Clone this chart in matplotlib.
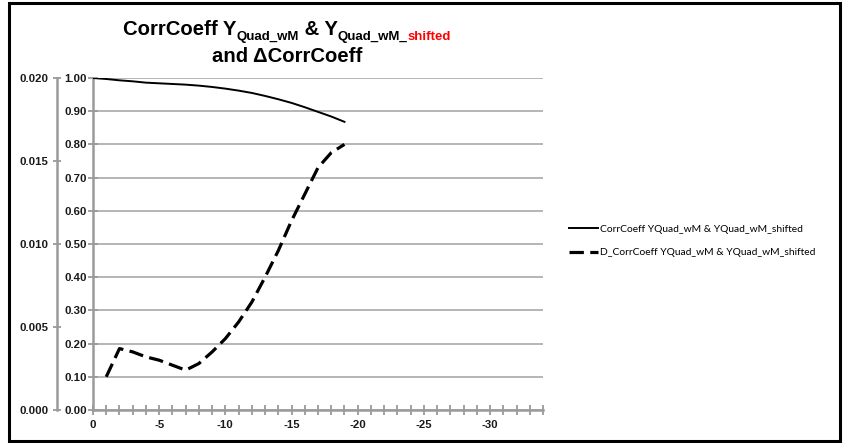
import numpy as np
import matplotlib
matplotlib.use("Agg")
import matplotlib.pyplot as plt
from matplotlib.transforms import IdentityTransform
from matplotlib.patches import Rectangle

# shift steps (x) and correlation values
shift = [0, -1, -2, -3, -4, -5, -6, -7, -8, -9, -10,
         -11, -12, -13, -14, -15, -16, -17, -18, -19]
corr = [1.000, 0.997, 0.993, 0.990, 0.986, 0.984, 0.982, 0.980, 0.977, 0.973,
        0.968, 0.962, 0.955, 0.946, 0.936, 0.925, 0.912, 0.898, 0.884, 0.868]

d_shift = [-1, -2, -3, -4, -5, -6, -7, -8, -9, -10,
           -11, -12, -13, -14, -15, -16, -17, -18, -19]
d_corr = [0.0020, 0.0037, 0.0035, 0.0032, 0.0030, 0.0027, 0.0024, 0.0028, 0.0035,
          0.0043, 0.0053, 0.0065, 0.0080, 0.0096, 0.0114, 0.0130, 0.0146, 0.0155, 0.0160]

inner_ticks = [0.0, 0.1, 0.2, 0.3, 0.4, 0.5, 0.6, 0.7, 0.8, 0.9, 1.0]
outer_ticks = [0.000, 0.005, 0.010, 0.015, 0.020]
x_major = [0, -5, -10, -15, -20, -25, -30]

lab_solid = "CorrCoeff YQuad_wM & YQuad_wM_shifted"
lab_dash = "D_CorrCoeff YQuad_wM & YQuad_wM_shifted"

W, H = 843, 443
fig = plt.figure(figsize=(W / 100, H / 100), dpi=100)
ax = fig.add_axes([93 / W, 1 - 410 / H, (543 - 93) / W, (410 - 78) / H])

axcol = "#9a9a9a"
tickfont = dict(family="Liberation Sans", weight="bold", size=8.2)

ax.plot(shift, corr, color="black", lw=1.4, label=lab_solid, zorder=3)
ax.set_xlim(0, -34)
ax.set_ylim(0, 1.0)
ax.set_yticks(inner_ticks)
ax.set_yticklabels(["%.2f" % v for v in inner_ticks], **tickfont)
ax.set_xticks(x_major)
ax.set_xticklabels([str(v) for v in x_major], **tickfont)
ax.set_xticks(np.arange(0, -35, -1), minor=True)
ax.grid(axis="y", color="#b0b0b0", lw=1.3)
ax.set_axisbelow(True)
for s in ["top", "right"]:
    ax.spines[s].set_visible(False)
for s in ["left", "bottom"]:
    ax.spines[s].set_color(axcol)
    ax.spines[s].set_linewidth(1.8)
ax.tick_params(axis="both", which="both", direction="inout", color=axcol,
               width=1.3, labelcolor="#1a1a1a")
ax.tick_params(axis="x", which="major", length=7, pad=4)
ax.tick_params(axis="x", which="minor", length=7)
ax.tick_params(axis="y", length=7, pad=1)

# outer axis for the delta series
ax2 = ax.twinx()
ax2.plot(d_shift, d_corr, color="black", lw=2.3, dashes=(4.5, 2),
         label=lab_dash, zorder=3)
ax2.set_ylim(0, 0.020)
ax2.yaxis.set_ticks_position("left")
ax2.spines["left"].set_position(("outward", 26))
ax2.spines["left"].set_visible(True)
ax2.spines["left"].set_color(axcol)
ax2.spines["left"].set_linewidth(1.8)
for s in ["top", "right", "bottom"]:
    ax2.spines[s].set_visible(False)
ax2.set_yticks(outer_ticks)
ax2.set_yticklabels(["%.3f" % v for v in outer_ticks], **tickfont)
ax2.tick_params(axis="y", direction="inout", length=6, width=1.3, color=axcol,
                labelcolor="#1a1a1a", pad=3)

# legend
h1, l1 = ax.get_legend_handles_labels()
h2, l2 = ax2.get_legend_handles_labels()
fig.legend(h1 + h2, l1 + l2, loc="center left",
           bbox_to_anchor=(564 / W, 1 - 241 / H), frameon=False,
           prop=dict(family="Lato", size=7.4), handlelength=2.8,
           handletextpad=0.2, labelspacing=1.35, borderpad=0)

# title, built from pieces so subscripts and the red word fit
r = fig.canvas.get_renderer()
tfam = "Liberation Sans"


def put_line(pieces, cx, base):
    widths = []
    for s, size, dy, col in pieces:
        t = fig.text(0, 0, s, fontsize=size, fontweight="bold", family=tfam,
                     transform=IdentityTransform())
        widths.append(t.get_window_extent(r).width)
        t.remove()
    x = cx - sum(widths) / 2
    for (s, size, dy, col), w in zip(pieces, widths):
        fig.text(x, base + dy, s, fontsize=size, fontweight="bold", family=tfam,
                 color=col, va="baseline", transform=IdentityTransform())
        x += w


put_line([("CorrCoeff Y", 14.6, 0, "black"),
          ("Quad_wM", 9.5, -5, "black"),
          (" & Y", 14.6, 0, "black"),
          ("Quad_wM_", 9.5, -5, "black"),
          ("shifted", 9.5, -5, "red")], 287, H - 35)
put_line([("and \u0394CorrCoeff", 14.6, 0, "black")], 287, H - 62)

# outer frame
fig.patches.append(Rectangle((9 / W, 2 / H), (840 - 9) / W, (440 - 2) / H,
                             transform=fig.transFigure, fill=False,
                             edgecolor="black", lw=2.2))

fig.savefig("out.png", dpi=100)
